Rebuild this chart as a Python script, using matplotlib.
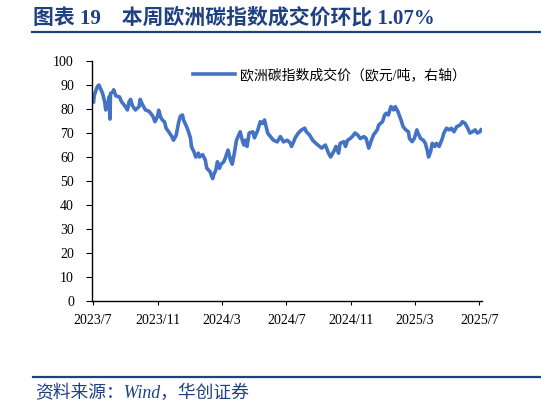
import matplotlib
matplotlib.use('Agg')
import matplotlib.pyplot as plt
from matplotlib.lines import Line2D
import pandas as pd

# EU carbon index price
dates = [
    '2023-07-03', '2023-07-04', '2023-07-10', '2023-07-13', '2023-07-20', '2023-07-24',
    '2023-07-26', '2023-07-31', '2023-08-01', '2023-08-03', '2023-08-04', '2023-08-08',
    '2023-08-10', '2023-08-14', '2023-08-21', '2023-08-25', '2023-09-01', '2023-09-05',
    '2023-09-08', '2023-09-11', '2023-09-14', '2023-09-20', '2023-09-27', '2023-09-29',
    '2023-10-03', '2023-10-09', '2023-10-16', '2023-10-23', '2023-10-27', '2023-11-01',
    '2023-11-03', '2023-11-07', '2023-11-10', '2023-11-14', '2023-11-17', '2023-11-22',
    '2023-11-28', '2023-12-01', '2023-12-06', '2023-12-11', '2023-12-14', '2023-12-18',
    '2023-12-20', '2023-12-27', '2024-01-02', '2024-01-04', '2024-01-09', '2024-01-12',
    '2024-01-17', '2024-01-19', '2024-01-25', '2024-01-30', '2024-02-02', '2024-02-08',
    '2024-02-13', '2024-02-15', '2024-02-19', '2024-02-22', '2024-02-26', '2024-02-28',
    '2024-03-05', '2024-03-08', '2024-03-13', '2024-03-18', '2024-03-21', '2024-03-25',
    '2024-03-29', '2024-04-05', '2024-04-09', '2024-04-12', '2024-04-15', '2024-04-18',
    '2024-04-22', '2024-04-29', '2024-05-02', '2024-05-08', '2024-05-13', '2024-05-17',
    '2024-05-21', '2024-05-27', '2024-06-03', '2024-06-07', '2024-06-14', '2024-06-20',
    '2024-06-26', '2024-07-03', '2024-07-09', '2024-07-11', '2024-07-15', '2024-07-18',
    '2024-07-24', '2024-07-30', '2024-08-05', '2024-08-08', '2024-08-14', '2024-08-20',
    '2024-08-26', '2024-09-02', '2024-09-06', '2024-09-13', '2024-09-19', '2024-09-23',
    '2024-09-30', '2024-10-03', '2024-10-08', '2024-10-11', '2024-10-18', '2024-10-21',
    '2024-10-25', '2024-10-30', '2024-11-04', '2024-11-08', '2024-11-13', '2024-11-18',
    '2024-11-25', '2024-11-29', '2024-12-04', '2024-12-09', '2024-12-13', '2024-12-20',
    '2024-12-23', '2024-12-30', '2025-01-03', '2025-01-06', '2025-01-10', '2025-01-15',
    '2025-01-20', '2025-01-23', '2025-01-28', '2025-02-03', '2025-02-07', '2025-02-12',
    '2025-02-17', '2025-02-19', '2025-02-24', '2025-02-28', '2025-03-05', '2025-03-07',
    '2025-03-12', '2025-03-17', '2025-03-21', '2025-03-25', '2025-03-27', '2025-03-31',
    '2025-04-03', '2025-04-08', '2025-04-11', '2025-04-16', '2025-04-22', '2025-04-25',
    '2025-04-30', '2025-05-05', '2025-05-09', '2025-05-14', '2025-05-19', '2025-05-26',
    '2025-05-30', '2025-06-04', '2025-06-09', '2025-06-13', '2025-06-18', '2025-06-23',
    '2025-06-27', '2025-07-02', '2025-07-04',
]
prices = [
    83.0, 85.5, 89.3, 90.0, 86.5, 83.0,
    79.6, 83.0, 85.0, 75.8, 86.5, 87.0,
    88.0, 85.5, 85.0, 83.0, 81.0, 79.6,
    83.0, 84.0, 81.5, 79.6, 81.0, 84.0,
    82.0, 79.6, 79.0, 77.0, 74.7, 77.0,
    79.5, 76.5, 75.4, 74.7, 72.0, 70.5,
    68.5, 67.0, 69.0, 74.7, 77.0, 77.5,
    75.4, 72.0, 68.0, 64.3, 62.0, 60.0,
    61.6, 60.0, 61.0, 58.8, 55.3, 53.9,
    51.0, 52.6, 54.6, 58.0, 55.3, 56.8,
    58.0, 59.6, 62.9, 58.5, 57.0, 61.6,
    67.0, 70.5, 67.0, 65.0, 67.0, 64.4,
    70.0, 70.5, 68.0, 71.0, 74.7, 74.0,
    75.4, 70.0, 68.0, 67.0, 66.3, 68.5,
    66.3, 67.0, 65.7, 64.4, 66.3, 68.0,
    70.0, 71.3, 72.0, 70.5, 69.2, 67.0,
    65.7, 64.4, 63.7, 65.0, 61.6, 60.0,
    62.8, 64.4, 61.6, 65.7, 66.4, 64.4,
    67.0, 67.7, 68.8, 70.0, 69.2, 67.7,
    68.5, 67.7, 63.7, 67.0, 69.2, 71.3,
    73.4, 74.7, 77.5, 78.2, 77.5, 81.0,
    79.6, 81.0, 79.0, 75.4, 72.6, 71.3,
    70.5, 67.7, 66.4, 67.7, 71.3, 70.0,
    67.7, 67.0, 65.7, 62.3, 60.0, 62.3,
    65.7, 64.4, 65.7, 64.4, 67.7, 70.0,
    72.0, 71.3, 72.0, 70.5, 72.6, 73.4,
    74.7, 74.0, 72.0, 70.0, 70.5, 71.3,
    70.0, 70.5, 71.3,
]
tick_dates = ['2023-07-01', '2023-11-01', '2024-03-01', '2024-07-01',
              '2024-11-01', '2025-03-01', '2025-07-01']
tick_labels = ['2023/7', '2023/11', '2024/3', '2024/7', '2024/11', '2025/3', '2025/7']
y_ticks = list(range(0, 101, 10))

title = '图表 19\u3000本周欧洲碳指数成交价环比 1.07%'
legend_label = '欧洲碳指数成交价（欧元/吨，右轴）'
source = '资料来源：Wind，华创证券'

navy = '#1f4182'
line_blue = '#4472c4'
serif_cjk = ['Liberation Serif', 'Noto Sans CJK SC']

plt.rcParams['font.family'] = serif_cjk

fig = plt.figure(figsize=(5.41, 4.09), dpi=100)
ax = fig.add_axes([92 / 541, 1 - 301 / 409, (482 - 92) / 541, (301 - 61) / 409])

x = pd.to_datetime(dates)
ax.plot(x, prices, color=line_blue, lw=2.6, solid_joinstyle='round')

ax.set_ylim(0, 100)
ax.set_yticks(y_ticks)
ax.set_xlim(pd.Timestamp('2023-06-30'), pd.Timestamp('2025-07-06'))
ax.set_xticks(pd.to_datetime(tick_dates))
ax.set_xticklabels(tick_labels)

for side in ['top', 'right']:
    ax.spines[side].set_visible(False)
for side in ['left', 'bottom']:
    ax.spines[side].set_linewidth(1.0)
    ax.spines[side].set_color('black')
ax.tick_params(axis='y', direction='out', length=4, width=0.8, pad=9, labelsize=10)
ax.tick_params(axis='x', direction='out', length=3, width=0.8, pad=6, labelsize=10)

# legend drawn like the reference: short line sample then label
handle = Line2D([], [], color=line_blue, lw=2.6)
ax.legend([handle], [legend_label], loc='upper left',
          bbox_to_anchor=((193 - 92) / 390, 1 - (68 - 61) / 240),
          frameon=False, handlelength=3.0, handletextpad=0.4,
          borderaxespad=0, borderpad=0,
          prop={'family': serif_cjk, 'size': 10})

# title and underline
fig.text(33 / 541, 1 - 18 / 409, title, color=navy, fontsize=15,
         fontweight='bold', va='center', ha='left', family=serif_cjk)
fig.add_artist(Line2D([32 / 541, 1], [1 - 32 / 409, 1 - 32 / 409],
                      color=navy, lw=1.6))

# source footer
fig.add_artist(Line2D([33 / 541, 1], [1 - 377 / 409, 1 - 377 / 409],
                      color=navy, lw=1.6))
fig.text(35 / 541, 1 - 393 / 409, source, color=navy, fontsize=12.8,
         style='italic', va='center', ha='left', family=serif_cjk)

fig.savefig('out.png', dpi=100)
